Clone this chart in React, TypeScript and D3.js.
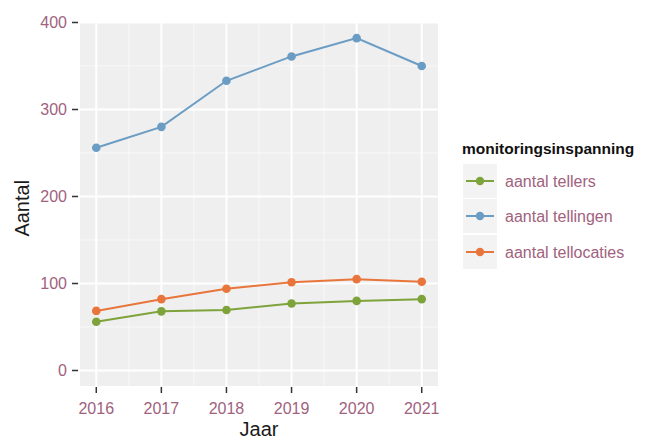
import React from "react";
import * as d3 from "d3";

const years = [2016, 2017, 2018, 2019, 2020, 2021];
const tellers = [56, 68, 69.5, 77, 80, 82];
const tellingen = [256, 280, 333, 361, 382, 350];
const tellocaties = [68.5, 82, 94, 101.5, 105, 102];
const yTicks = [0, 100, 200, 300, 400];
const seriesNames = ["aantal tellers", "aantal tellingen", "aantal tellocaties"];
const seriesColors = ["#7ea33a", "#6b9dc4", "#e8763c"];

const W = 645;
const H = 439;
const panel = { left: 80, right: 438, top: 22.5, bottom: 386 };

export default function App() {
  const x = d3
    .scaleLinear()
    .domain([2016 - 0.25, 2021 + 0.25])
    .range([panel.left, panel.right]);
  const y = d3.scaleLinear().domain([0, 400]).range([370.5, 22.5]);

  const data = [tellers, tellingen, tellocaties];
  const line = d3
    .line<number>()
    .x((_, i) => x(years[i]))
    .y((v) => y(v));

  const minorY = [50, 150, 250, 350];
  const minorX = [2016.5, 2017.5, 2018.5, 2019.5, 2020.5];
  const labelColor = "#a0627e";
  const font = "Liberation Sans, Arial, sans-serif";

  const legendItems = [
    { idx: 0, y: 181 },
    { idx: 1, y: 216 },
    { idx: 2, y: 252 },
  ];

  return (
    <svg width={W} height={H} style={{ position: "absolute", left: 0, top: 0 }} fontFamily={font}>
      <rect x={0} y={0} width={W} height={H} fill="#ffffff" />
      <rect
        x={panel.left}
        y={panel.top}
        width={panel.right - panel.left}
        height={panel.bottom - panel.top}
        fill="#efefef"
      />
      {minorY.map((v) => (
        <line key={"my" + v} x1={panel.left} x2={panel.right} y1={y(v)} y2={y(v)} stroke="#f8f8f8" strokeWidth={1} />
      ))}
      {minorX.map((v) => (
        <line key={"mx" + v} y1={panel.top} y2={panel.bottom} x1={x(v)} x2={x(v)} stroke="#f8f8f8" strokeWidth={1} />
      ))}
      {yTicks.map((v) => (
        <line key={"gy" + v} x1={panel.left} x2={panel.right} y1={y(v)} y2={y(v)} stroke="#ffffff" strokeWidth={2} />
      ))}
      {years.map((v) => (
        <line key={"gx" + v} y1={panel.top} y2={panel.bottom} x1={x(v)} x2={x(v)} stroke="#ffffff" strokeWidth={2} />
      ))}

      {data.map((d, si) => (
        <g key={"s" + si}>
          <path d={line(d) || ""} fill="none" stroke={seriesColors[si]} strokeWidth={2} />
          {d.map((v, i) => (
            <circle key={i} cx={x(years[i])} cy={y(v)} r={4.3} fill={seriesColors[si]} />
          ))}
        </g>
      ))}

      {/* y axis */}
      {yTicks.map((v) => (
        <g key={"yt" + v}>
          <line x1={panel.left - 8} x2={panel.left - 2} y1={y(v)} y2={y(v)} stroke="#333" strokeWidth={1.5} />
          <text x={panel.left - 13} y={y(v)} dy="0.35em" textAnchor="end" fontSize={16} fill={labelColor}>
            {v}
          </text>
        </g>
      ))}
      {/* x axis */}
      {years.map((v) => (
        <g key={"xt" + v}>
          <line y1={panel.bottom + 1} y2={panel.bottom + 7} x1={x(v)} x2={x(v)} stroke="#333" strokeWidth={1.5} />
          <text x={x(v)} y={panel.bottom + 28} textAnchor="middle" fontSize={16} fill={labelColor}>
            {v}
          </text>
        </g>
      ))}

      <text
        transform={`translate(29, ${(panel.top + panel.bottom) / 2 + 4}) rotate(-90)`}
        textAnchor="middle"
        fontSize={20}
        fill="#1a1a1a"
      >
        Aantal
      </text>
      <text x={(panel.left + panel.right) / 2} y={436} textAnchor="middle" fontSize={20} fill="#1a1a1a">
        Jaar
      </text>

      {/* legend */}
      <text x={462} y={154} fontSize={15.5} fontWeight="bold" fill="#111">
        monitoringsinspanning
      </text>
      {legendItems.map((it) => (
        <g key={"lg" + it.idx}>
          <rect x={463} y={it.y - 17} width={34} height={34} fill="#f3f3f3" />
          <line x1={466} x2={494} y1={it.y} y2={it.y} stroke={seriesColors[it.idx]} strokeWidth={2} />
          <circle cx={480} cy={it.y} r={4.2} fill={seriesColors[it.idx]} />
          <text x={505} y={it.y} dy="0.35em" fontSize={16} fill={labelColor}>
            {seriesNames[it.idx]}
          </text>
        </g>
      ))}
    </svg>
  );
}
